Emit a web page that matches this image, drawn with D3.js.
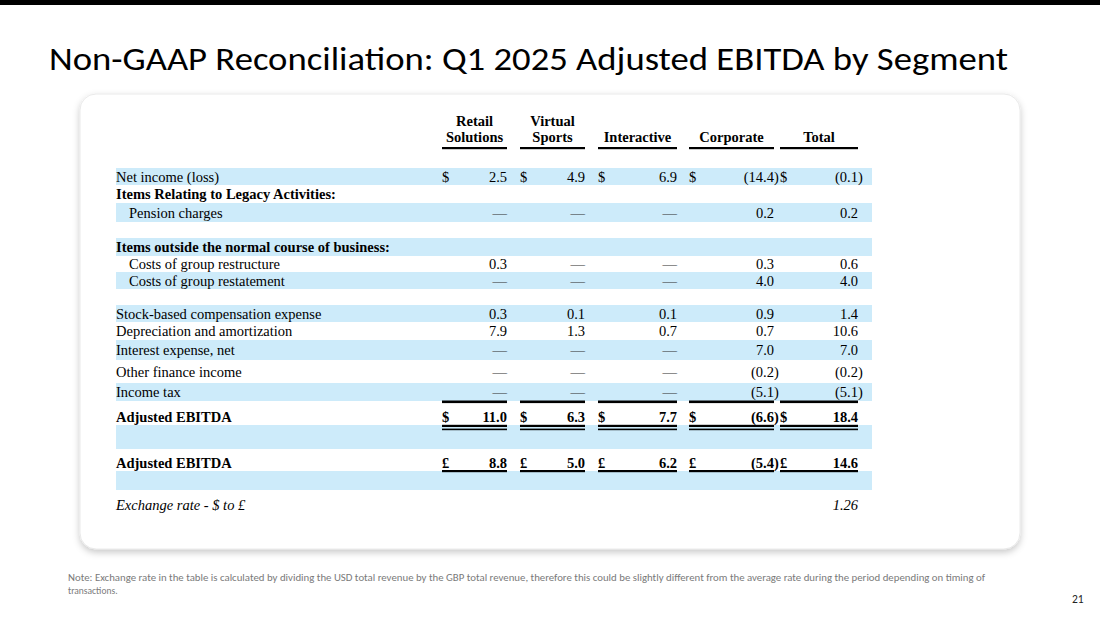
<!DOCTYPE html>
<html>
<head>
<meta charset="utf-8">
<script src="https://cdn.jsdelivr.net/npm/d3@7"></script>
<style>
  body { margin: 0; background: #fff; }
  svg { display: block; }
</style>
</head>
<body>
<script>
// ---- data ----
const _ = undefined; // empty cell; 0 is shown as a dash
const segments = [["Retail", "Solutions"], ["Virtual", "Sports"], ["", "Interactive"], ["", "Corporate"], ["", "Total"]];
const rowLabels = [
  "Net income (loss)", "Items Relating to Legacy Activities:", "Pension charges", "",
  "Items outside the normal course of business:", "Costs of group restructure", "Costs of group restatement", "",
  "Stock-based compensation expense", "Depreciation and amortization", "Interest expense, net",
  "Other finance income", "Income tax", "Adjusted EBITDA", "", "Adjusted EBITDA", "", "Exchange rate - $ to \u00a3"
];
const currency = ["$", "", "", "", "", "", "", "", "", "", "", "", "", "$", "", "\u00a3", "", ""];
const retail      = [2.5, _, 0, _, _, 0.3, 0, _, 0.3, 7.9, 0, 0, 0, 11.0, _, 8.8, _, _];
const virtual     = [4.9, _, 0, _, _, 0, 0, _, 0.1, 1.3, 0, 0, 0, 6.3, _, 5.0, _, _];
const interactive = [6.9, _, 0, _, _, 0, 0, _, 0.1, 0.7, 0, 0, 0, 7.7, _, 6.2, _, _];
const corporate   = [-14.4, _, 0.2, _, _, 0.3, 4.0, _, 0.9, 0.7, 7.0, -0.2, -5.1, -6.6, _, -5.4, _, _];
const total       = [-0.1, _, 0.2, _, _, 0.6, 4.0, _, 1.4, 10.6, 7.0, -0.2, -5.1, 18.4, _, 14.6, _, 1.26];
const columns = [retail, virtual, interactive, corporate, total];

const boldRows = [1, 4, 13, 15];
const indentRows = [2, 5, 6];
const italicRows = [17];

const title = "Non-GAAP Reconciliation: Q1 2025 Adjusted EBITDA by Segment";
const note = [
  "Note: Exchange rate in the table is calculated by dividing the USD total revenue by the GBP total revenue, therefore this could be slightly different from the average rate during the period depending on timing of",
  "transactions."
];
const pageNo = "21";

// ---- layout ----
const W = 1100, H = 618;
const rowHeights = [17, 18, 19, 16, 18, 16, 17, 16, 17, 18, 20, 23, 18, 24, 24, 22, 19, 28];
const textShift = [0, 0, 0, 0, 0, 0, 0, 0, 0, 0, 0, 0, 0, 3.5, 0, 3, 0, 1];
const tableTop = 168, tableLeft = 116, tableRight = 872;
const serif = "'Liberation Serif', 'Times New Roman', serif";
const sans = "Carlito, Calibri, Lato, 'Open Sans', sans-serif";
const blue = "#cdebfa";

const idx = d3.range(segments.length);
const colLeft = d3.scaleOrdinal().domain(idx).range([442, 520, 598, 689, 780]);
const colRight = d3.scaleOrdinal().domain(idx).range([507, 585, 677, 774, 858]);
const rowIdx = d3.range(rowLabels.length);
const tops = [0, ...d3.cumsum(rowHeights)].map(v => v + tableTop);
const rowTop = d3.scaleOrdinal().domain(rowIdx).range(tops);
const rowH = d3.scaleOrdinal().domain(rowIdx).range(rowHeights);

const f1 = d3.format(".1f"), f2 = d3.format(".2f");

const svg = d3.select("body").append("svg").attr("width", W).attr("height", H);

const defs = svg.append("defs");
const shadow = defs.append("filter").attr("id", "shadow")
  .attr("x", "-5%").attr("y", "-5%").attr("width", "110%").attr("height", "115%");
shadow.append("feDropShadow").attr("dx", 0).attr("dy", 3).attr("stdDeviation", 3.5)
  .attr("flood-color", "#000").attr("flood-opacity", 0.22);

// top bar
svg.append("rect").attr("x", 0).attr("y", 0).attr("width", W).attr("height", 5).attr("fill", "#000");

// title
svg.append("text").attr("x", 49).attr("y", 70)
  .attr("font-family", sans).attr("font-size", 32).attr("fill", "#000")
  .attr("textLength", 959).attr("lengthAdjust", "spacingAndGlyphs")
  .text(title);

// card
svg.append("rect").attr("x", 80).attr("y", 94).attr("width", 940).attr("height", 455)
  .attr("rx", 16).attr("fill", "#fff").attr("stroke", "#e4e4e4").attr("stroke-width", 0.8)
  .attr("filter", "url(#shadow)");

// header
const head = svg.append("g").attr("font-family", serif).attr("font-size", 14.5)
  .attr("font-weight", "bold").attr("text-anchor", "middle");
idx.forEach(i => {
  const cx = (colLeft(i) + colRight(i)) / 2;
  head.append("text").attr("x", cx).attr("y", 126).text(segments[i][0]);
  head.append("text").attr("x", cx).attr("y", 142).text(segments[i][1]);
  svg.append("rect").attr("x", colLeft(i)).attr("y", 147)
    .attr("width", colRight(i) - colLeft(i)).attr("height", 2.2).attr("fill", "#000");
});

// row bands
svg.append("g").selectAll("rect")
  .data(rowIdx.filter(r => r % 2 === 0 && r < 17))
  .join("rect")
  .attr("x", tableLeft).attr("width", tableRight - tableLeft)
  .attr("y", r => rowTop(r)).attr("height", r => rowH(r))
  .attr("fill", blue);

// rows
const body = svg.append("g").attr("font-family", serif).attr("font-size", 14.5).attr("fill", "#000");
const baseY = r => rowTop(r) + rowH(r) / 2 + 5 + textShift[r];

rowIdx.forEach(r => {
  const bold = boldRows.includes(r) ? "bold" : "normal";
  const italic = italicRows.includes(r) ? "italic" : "normal";
  if (rowLabels[r]) {
    body.append("text")
      .attr("x", indentRows.includes(r) ? 129 : tableLeft).attr("y", baseY(r))
      .attr("font-weight", bold).attr("font-style", italic)
      .text(rowLabels[r]);
  }
  idx.forEach(c => {
    const v = columns[c][r];
    if (v === undefined) return;
    if (currency[r]) {
      body.append("text").attr("x", colLeft(c)).attr("y", baseY(r))
        .attr("font-weight", bold).text(currency[r]);
    }
    let s;
    if (v === 0) s = "\u2014";
    else if (italicRows.includes(r)) s = f2(v);
    else s = v < 0 ? "(" + f1(-v) : f1(v);
    body.append("text").attr("x", colRight(c)).attr("y", baseY(r))
      .attr("text-anchor", "end").attr("font-weight", bold).attr("font-style", italic)
      .attr("fill", v === 0 ? "#333" : "#000")
      .text(s);
    if (v < 0) {
      body.append("text").attr("x", colRight(c)).attr("y", baseY(r))
        .attr("font-weight", bold).text(")");
    }
  });
});

// total rules
const rules = [
  { y: rowTop(13) - 0.5, h: 2.6 },
  { y: rowTop(14) - 0.2, h: 2.2 },
  { y: rowTop(14) + 3.6, h: 1.6 },
  { y: rowTop(16) - 1, h: 2.2 }
];
rules.forEach(l => {
  idx.forEach(c => {
    svg.append("rect").attr("x", colLeft(c)).attr("y", l.y)
      .attr("width", colRight(c) - colLeft(c)).attr("height", l.h).attr("fill", "#000");
  });
});

// footnote and page number
svg.append("text").attr("x", 68).attr("y", 581)
  .attr("font-family", sans).attr("font-size", 9.5).attr("fill", "#7a7a7a")
  .attr("textLength", 917).attr("lengthAdjust", "spacingAndGlyphs")
  .text(note[0]);
svg.append("text").attr("x", 68).attr("y", 594)
  .attr("font-family", sans).attr("font-size", 9.5).attr("fill", "#7a7a7a")
  .text(note[1]);
svg.append("text").attr("x", 1072).attr("y", 603)
  .attr("font-family", sans).attr("font-size", 11.5).attr("fill", "#222")
  .text(pageNo);
</script>
</body>
</html>
